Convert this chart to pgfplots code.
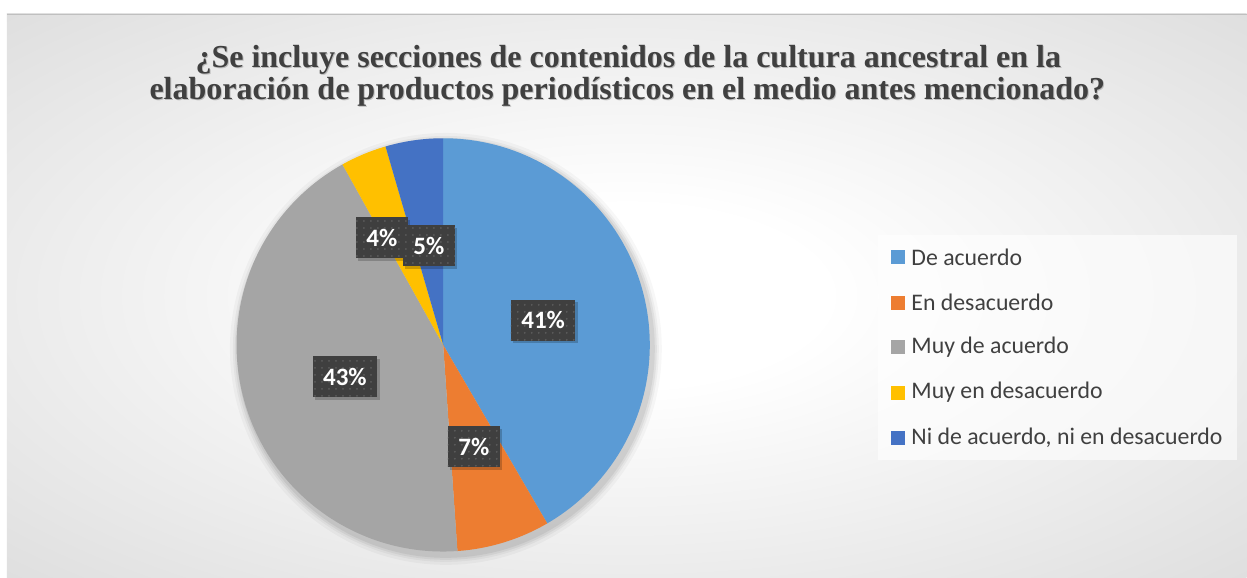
\documentclass[border=0pt]{standalone}
\usepackage{pgfplots}
\pgfplotsset{compat=1.18}
\usepackage{fontspec}
\setmainfont{Liberation Serif}
\newfontfamily\calibri{Carlito}
\usetikzlibrary{patterns.meta,shadows}
\definecolor{cA}{HTML}{5B9BD5}
\definecolor{cB}{HTML}{ED7D31}
\definecolor{cC}{HTML}{A5A5A5}
\definecolor{cD}{HTML}{FFC000}
\definecolor{cE}{HTML}{4472C4}
\definecolor{txt}{HTML}{404040}
\definecolor{labbg}{HTML}{3F3F3F}
\definecolor{dotc}{HTML}{5C5C5C}
\pgfdeclareradialshading{bgshade}{\pgfpoint{0bp}{0bp}}{color(0bp)=(white); color(8bp)=(white); color(45bp)=(black!17); color(72bp)=(black!22)}
% slice values (percent)
\def\vA{41.6}\def\vB{7.3}\def\vC{43.0}\def\vD{3.6}\def\vE{4.5}
\newcommand\titleA{¿Se incluye secciones de contenidos de la cultura ancestral en la}
\newcommand\titleB{elaboración de productos periodísticos en el medio antes mencionado?}
\tikzset{
  lab/.style={fill=labbg, text=white, font=\calibri\bfseries\fontsize{25}{25}\selectfont,
    minimum height=41pt, inner xsep=10.5pt, inner ysep=0pt,
    drop shadow={shadow xshift=2.5pt, shadow yshift=-2.5pt, opacity=0.2, fill=black},
    postaction={pattern={Dots[distance=7pt,radius=1pt]}, pattern color=dotc}},
  ttl/.style={anchor=base, font=\bfseries\fontsize{32}{32}\selectfont},
  leg/.style={anchor=west, inner sep=0pt, text=txt, font=\calibri\fontsize{23.8}{24}\selectfont},
}
\begin{document}
\begin{tikzpicture}
\begin{axis}[
  scale only axis, width=1247pt, height=578pt,
  xmin=0, xmax=1247, ymin=0, ymax=578, y dir=reverse,
  axis lines=none, clip=false,
]
% white surround and gradient background
\fill[white] (axis cs:0,0) rectangle (axis cs:1247,578);
\shade[shading=bgshade] (axis cs:7,14) rectangle (axis cs:1247,578);
\draw[black!25, line width=0.8pt] (axis cs:7,14) -- (axis cs:1247,14);
% pie soft shadow
\fill[black, opacity=0.03] (axis cs:446,349) circle[radius=216pt];
\fill[black, opacity=0.04] (axis cs:446,349) circle[radius=213pt];
\fill[black, opacity=0.05] (axis cs:446,349) circle[radius=211pt];
\fill[black, opacity=0.06] (axis cs:446,349) circle[radius=209pt];
% pie slices
\fill[cA] (axis cs:443.3,345) -- ++(90:206.7pt) arc[start angle=90, end angle={90-3.6*\vA}, radius=206.7pt] -- cycle;
\fill[cB] (axis cs:443.3,345) -- ++({90-3.6*\vA}:206.7pt) arc[start angle={90-3.6*\vA}, end angle={90-3.6*(\vA+\vB)}, radius=206.7pt] -- cycle;
\fill[cC] (axis cs:443.3,345) -- ++({90-3.6*(\vA+\vB)}:206.7pt) arc[start angle={90-3.6*(\vA+\vB)}, end angle={90-3.6*(\vA+\vB+\vC)}, radius=206.7pt] -- cycle;
\fill[cD] (axis cs:443.3,345) -- ++({90-3.6*(\vA+\vB+\vC)}:206.7pt) arc[start angle={90-3.6*(\vA+\vB+\vC)}, end angle={90-3.6*(\vA+\vB+\vC+\vD)}, radius=206.7pt] -- cycle;
\fill[cE] (axis cs:443.3,345) -- ++({90-3.6*(\vA+\vB+\vC+\vD)}:206.7pt) arc[start angle={90-3.6*(\vA+\vB+\vC+\vD)}, end angle={90-3.6*(\vA+\vB+\vC+\vD+\vE)}, radius=206.7pt] -- cycle;
% data labels
\node[lab] at (axis cs:543.3,320.5) {41\%};
\node[lab] at (axis cs:474,446.7) {7\%};
\node[lab] at (axis cs:345,377) {43\%};
\node[lab] at (axis cs:382,238) {4\%};
\node[lab] at (axis cs:429,246) {5\%};
% title
\node[ttl, text=black, opacity=0.2] at (axis cs:629.5,69) {\titleA};
\node[ttl, text=black, opacity=0.2] at (axis cs:628.5,101) {\titleB};
\node[ttl, text=txt] at (axis cs:628.5,68) {\titleA};
\node[ttl, text=txt] at (axis cs:627.5,100) {\titleB};
% legend
\fill[white, opacity=0.6] (axis cs:878,235) rectangle (axis cs:1237,460);
\fill[cA] (axis cs:891.7,250.3) rectangle (axis cs:905.7,264.3);
\fill[cB] (axis cs:891.7,295.7) rectangle (axis cs:905.7,309.7);
\fill[cC] (axis cs:891.7,340.3) rectangle (axis cs:905.7,354.3);
\fill[cD] (axis cs:891.7,385.7) rectangle (axis cs:905.7,399.7);
\fill[cE] (axis cs:891.7,431.3) rectangle (axis cs:905.7,445.3);
\node[leg] at (axis cs:911.5,257.3) {De acuerdo};
\node[leg] at (axis cs:911.5,302.7) {En desacuerdo};
\node[leg] at (axis cs:911.5,347.3) {Muy de acuerdo};
\node[leg] at (axis cs:911.5,392.7) {Muy en desacuerdo};
\node[leg] at (axis cs:911.5,438.3) {Ni de acuerdo, ni en desacuerdo};
\end{axis}
\end{tikzpicture}
\end{document}
